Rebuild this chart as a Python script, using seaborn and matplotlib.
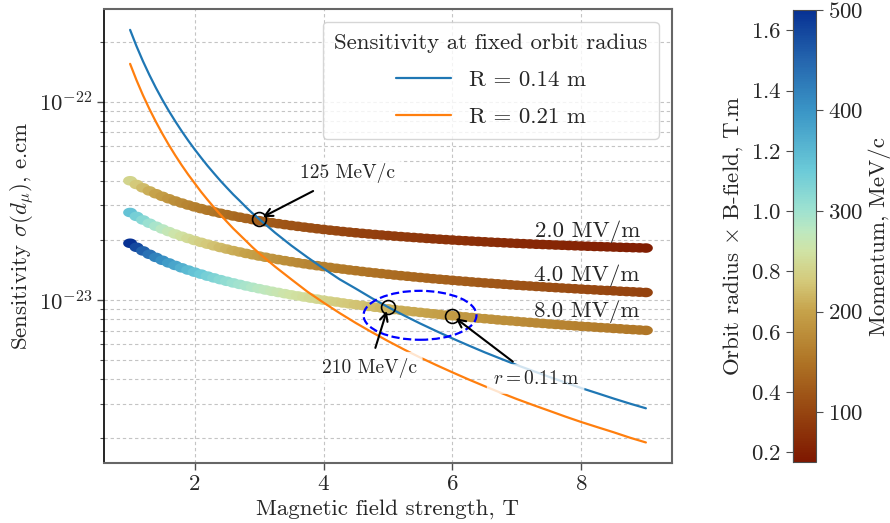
import matplotlib
matplotlib.use("Agg")
import numpy as np
import matplotlib.pyplot as plt
import seaborn as sns
from matplotlib.colors import LinearSegmentedColormap, Normalize
from matplotlib.cm import ScalarMappable
from matplotlib.patches import Ellipse
from matplotlib.markers import MarkerStyle
from matplotlib.path import Path

# ---------------- data ----------------
# fixed-radius lines: sensitivity in units of 1e-24 e.cm
b_line = [1.0, 1.1, 1.2, 1.3, 1.4, 1.5, 1.6, 1.7, 1.8, 1.9, 2.0, 2.1, 2.2, 2.3,
          2.4, 2.5, 2.6, 2.7, 2.8, 2.9, 3.0, 3.25, 3.5, 3.75, 4.0,
          4.25, 4.5, 4.75, 5.0, 5.25, 5.5, 5.75, 6.0, 6.25, 6.5, 6.75, 7.0,
          7.25, 7.5, 7.75, 8.0, 8.25, 8.5, 8.75, 9.0]
sens_r014 = [230, 190.1, 159.7, 136.1, 117.3, 102.2, 89.8, 79.6, 71.0, 63.7,
             57.5, 52.2, 47.5, 43.5, 39.9, 36.8, 34.0, 31.6, 29.3, 27.3, 25.6,
             21.8, 18.8, 16.4, 14.4, 12.7, 11.4, 10.2, 9.2, 8.34, 7.60, 6.96,
             6.39, 5.89, 5.44, 5.05, 4.69, 4.38, 4.09, 3.83, 3.59, 3.38, 3.18,
             3.00, 2.84]
sens_r021 = [155, 128.1, 107.6, 91.7, 79.1, 68.9, 60.5, 53.6, 47.8, 42.9,
             38.8, 35.1, 32.0, 29.3, 26.9, 24.8, 22.9, 21.3, 19.8, 18.4, 17.2,
             14.7, 12.7, 11.0, 9.69, 8.58, 7.65, 6.87, 6.20, 5.62, 5.12, 4.69,
             4.31, 3.97, 3.67, 3.40, 3.16, 2.95, 2.76, 2.58, 2.42, 2.28, 2.15,
             2.02, 1.91]
line_labels = ["R = 0.14 m", "R = 0.21 m"]

# fixed E-field bands
b_band = [1.0, 1.1, 1.2, 1.3, 1.4, 1.5, 1.6, 1.7, 1.8, 1.9,
          2.0, 2.1, 2.2, 2.3, 2.4, 2.5, 2.6, 2.7, 2.8, 2.9,
          3.0, 3.1, 3.2, 3.3, 3.4, 3.5, 3.6, 3.7, 3.8, 3.9,
          4.0, 4.1, 4.2, 4.3, 4.4, 4.5, 4.6, 4.7, 4.8, 4.9,
          5.0, 5.1, 5.2, 5.3, 5.4, 5.5, 5.6, 5.7, 5.8, 5.9,
          6.0, 6.1, 6.2, 6.3, 6.4, 6.5, 6.6, 6.7, 6.8, 6.9,
          7.0, 7.1, 7.2, 7.3, 7.4, 7.5, 7.6, 7.7, 7.8, 7.9,
          8.0, 8.1, 8.2, 8.3, 8.4, 8.5, 8.6, 8.7, 8.8, 8.9,
          9.0]
sens_2mv = [39.88, 38.19, 36.73, 35.44, 34.30, 33.28, 32.36, 31.53, 30.78, 30.08,
            29.45, 28.86, 28.32, 27.82, 27.35, 26.91, 26.50, 26.12, 25.75, 25.41,
            25.09, 24.79, 24.50, 24.23, 23.97, 23.72, 23.49, 23.27, 23.06, 22.85,
            22.66, 22.47, 22.30, 22.12, 21.96, 21.80, 21.65, 21.51, 21.37, 21.24,
            21.11, 20.98, 20.86, 20.75, 20.64, 20.53, 20.42, 20.32, 20.23, 20.13,
            20.04, 19.95, 19.87, 19.79, 19.71, 19.63, 19.55, 19.48, 19.41, 19.34,
            19.27, 19.21, 19.15, 19.08, 19.03, 18.97, 18.91, 18.86, 18.80, 18.75,
            18.70, 18.65, 18.60, 18.56, 18.51, 18.47, 18.42, 18.38, 18.34, 18.30,
            18.26]
mom_2mv = [241.9, 229.7, 219.0, 209.5, 201.0, 193.3, 186.4, 180.0, 174.2, 168.8,
           163.8, 159.2, 154.9, 150.8, 147.0, 143.4, 140.1, 136.8, 133.8, 130.9,
           128.2, 125.6, 123.1, 120.7, 118.4, 116.2, 114.1, 112.1, 110.1, 108.3,
           106.5, 104.7, 103.1, 101.4, 99.9, 98.3, 96.9, 95.5, 94.1, 92.7,
           91.4, 90.2, 88.9, 87.8, 86.6, 85.5, 84.4, 83.3, 82.3, 81.2,
           80.2, 79.3, 78.3, 77.4, 76.5, 75.6, 74.8, 73.9, 73.1, 72.3,
           71.5, 70.8, 70.0, 69.3, 68.5, 67.8, 67.1, 66.5, 65.8, 65.1,
           64.5, 63.9, 63.3, 62.7, 62.1, 61.5, 60.9, 60.3, 59.8, 59.2,
           58.7]
sens_4mv = [27.59, 26.37, 25.30, 24.36, 23.53, 22.78, 22.10, 21.49, 20.93, 20.41,
            19.94, 19.51, 19.10, 18.73, 18.37, 18.04, 17.72, 17.44, 17.15, 16.89,
            16.64, 16.41, 16.18, 15.97, 15.77, 15.58, 15.39, 15.21, 15.04, 14.88,
            14.73, 14.58, 14.43, 14.30, 14.16, 14.04, 13.91, 13.79, 13.68, 13.57,
            13.46, 13.35, 13.25, 13.16, 13.06, 12.97, 12.88, 12.79, 12.71, 12.63,
            12.55, 12.47, 12.40, 12.32, 12.25, 12.18, 12.12, 12.05, 11.99, 11.92,
            11.86, 11.80, 11.75, 11.69, 11.64, 11.58, 11.53, 11.48, 11.43, 11.38,
            11.33, 11.28, 11.24, 11.19, 11.15, 11.11, 11.06, 11.02, 10.98, 10.94,
            10.90]
mom_4mv = [349.7, 332.7, 317.9, 304.7, 293.0, 282.4, 272.9, 264.2, 256.2, 248.8,
           241.9, 235.6, 229.7, 224.2, 219.0, 214.2, 209.5, 205.2, 201.0, 197.1,
           193.3, 189.8, 186.4, 183.2, 180.0, 177.1, 174.2, 171.5, 168.8, 166.3,
           163.8, 161.5, 159.2, 157.0, 154.9, 152.8, 150.8, 148.9, 147.0, 145.2,
           143.4, 141.7, 140.1, 138.4, 136.8, 135.3, 133.8, 132.3, 130.9, 129.5,
           128.2, 126.9, 125.6, 124.3, 123.1, 121.9, 120.7, 119.5, 118.4, 117.3,
           116.2, 115.1, 114.1, 113.1, 112.1, 111.1, 110.1, 109.2, 108.3, 107.4,
           106.5, 105.6, 104.7, 103.9, 103.1, 102.2, 101.4, 100.6, 99.9, 99.1,
           98.3]
sens_8mv = [19.30, 18.42, 17.66, 16.98, 16.38, 15.84, 15.36, 14.92, 14.51, 14.14,
            13.80, 13.49, 13.18, 12.91, 12.65, 12.41, 12.18, 11.97, 11.76, 11.57,
            11.39, 11.22, 11.05, 10.90, 10.75, 10.60, 10.47, 10.34, 10.21, 10.09,
            9.97, 9.86, 9.76, 9.65, 9.55, 9.46, 9.37, 9.27, 9.18, 9.10,
            9.02, 8.94, 8.86, 8.79, 8.72, 8.65, 8.58, 8.51, 8.45, 8.38,
            8.32, 8.26, 8.21, 8.15, 8.09, 8.04, 7.99, 7.93, 7.88, 7.84,
            7.79, 7.74, 7.70, 7.65, 7.61, 7.56, 7.52, 7.48, 7.44, 7.40,
            7.36, 7.33, 7.29, 7.25, 7.22, 7.18, 7.15, 7.11, 7.08, 7.05,
            7.02]
mom_8mv = [500.0, 476.2, 455.4, 437.1, 420.7, 406.0, 392.7, 380.6, 369.4, 359.2,
           349.7, 340.9, 332.7, 325.1, 317.9, 311.2, 304.7, 298.7, 293.0, 287.6,
           282.4, 277.6, 272.9, 268.5, 264.2, 260.2, 256.2, 252.4, 248.8, 245.3,
           241.9, 238.7, 235.6, 232.6, 229.7, 226.9, 224.2, 221.6, 219.0, 216.6,
           214.2, 211.8, 209.5, 207.3, 205.2, 203.1, 201.0, 199.0, 197.1, 195.2,
           193.3, 191.5, 189.8, 188.1, 186.4, 184.8, 183.2, 181.6, 180.0, 178.5,
           177.1, 175.6, 174.2, 172.8, 171.5, 170.1, 168.8, 167.5, 166.3, 165.0,
           163.8, 162.6, 161.5, 160.3, 159.2, 158.1, 157.0, 155.9, 154.9, 153.8,
           152.8]
band_labels = ["2.0 MV/m", "4.0 MV/m", "8.0 MV/m"]

mom_ticks = [100, 200, 300, 400, 500]
br_ticks = [0.2, 0.4, 0.6, 0.8, 1.0, 1.2, 1.4, 1.6]
unit = 1e-24

# ---------------- style ----------------
sns.set_style("ticks")
FS = 16.5
plt.rcParams.update({
    "font.family": ["cmr10", "DejaVu Serif"],
    "mathtext.fontset": "cm",
    "axes.formatter.use_mathtext": True,
    "axes.unicode_minus": False,
    "font.size": FS,
})

cmap_pos = [0.0, 0.111, 0.222, 0.333, 0.4, 0.467, 0.511, 0.556, 0.644, 0.778, 0.889, 1.0]
cmap_col = ["#7E1700", "#964510", "#AF7425", "#C6A24A", "#D4C97A", "#D0E3A5",
            "#BDE8C0", "#9FE2D0", "#6CCBD8", "#3A95C6", "#2566AE", "#073193"]
roma = LinearSegmentedColormap.from_list("roma_like", list(zip(cmap_pos, cmap_col)))
norm = Normalize(50, 500)

# slightly widened round marker so the dense points merge into a smooth band
_t = np.linspace(0, 2 * np.pi, 64)
band_marker = MarkerStyle(Path(np.column_stack([1.45 * np.cos(_t), np.sin(_t)])))

fig = plt.figure(figsize=(8.9, 5.23), dpi=100)
ax = fig.add_axes([0.1172, 0.1153, 0.6375, 0.8669])
cax = fig.add_axes([0.8913, 0.1161, 0.0255, 0.8648])

# bands
for sens, mom in [(sens_2mv, mom_2mv), (sens_4mv, mom_4mv), (sens_8mv, mom_8mv)]:
    sns.scatterplot(x=b_band, y=np.array(sens) * unit, hue=mom, palette=roma,
                    hue_norm=(50, 500), s=100, marker=band_marker, linewidth=0,
                    legend=False, ax=ax, zorder=2)

# fixed-radius lines
sns.lineplot(x=b_line, y=np.array(sens_r014) * unit, color="#1f77b4", lw=1.6,
             label=line_labels[0], ax=ax, zorder=3)
sns.lineplot(x=b_line, y=np.array(sens_r021) * unit, color="#ff7f0e", lw=1.6,
             label=line_labels[1], ax=ax, zorder=3)

ax.set_yscale("log")
ax.set_xlim(0.6, 9.4)
ax.set_ylim(1.51e-24, 2.92e-22)

# highlighted points
p125 = (3.0, sens_r014[b_line.index(3.0)] * unit)
p210 = (5.0, sens_r014[b_line.index(5.0)] * unit)
pr011 = (6.0, sens_8mv[b_band.index(6.0)] * unit)
ax.plot([p125[0], p210[0], pr011[0]], [p125[1], p210[1], pr011[1]], "o",
        mfc="none", mec="black", ms=10, mew=1.2, zorder=5)

box = dict(boxstyle="round,pad=0.3", fc="white", ec="none", alpha=0.8)
arr = dict(arrowstyle="->", color="black", lw=1.5, shrinkA=3, shrinkB=3)
ax.annotate("125 MeV/c", xy=p125, xytext=(0.3449, 0.6273), textcoords="axes fraction",
            ha="left", va="baseline", fontsize=14, bbox=box, arrowprops=arr, zorder=6)
ax.annotate("210 MeV/c", xy=p210, xytext=(0.3832, 0.1985), textcoords="axes fraction",
            ha="left", va="baseline", fontsize=14, bbox=box, arrowprops=arr, zorder=6)
ax.annotate(r"$r = 0.11\,\mathrm{m}$", xy=pr011, xytext=(0.6845, 0.1736),
            textcoords="axes fraction", ha="left", va="baseline", fontsize=14,
            bbox=box, arrowprops=arr, zorder=6)

ax.add_patch(Ellipse((0.5564, 0.3251), 0.199, 0.108, transform=ax.transAxes,
                     fill=False, ec="blue", ls="--", lw=1.6, zorder=5))

for lab, yf in zip(band_labels, [0.4971, 0.4014, 0.3207]):
    ax.text(0.9441, yf, lab, transform=ax.transAxes, ha="right", va="baseline",
            fontsize=FS, zorder=4)

ax.grid(True, which="major", axis="x", ls=(0, (3, 2.5)), color="#c4c4c4", lw=0.8)
ax.grid(True, which="both", axis="y", ls=(0, (3, 2.5)), color="#c4c4c4", lw=0.8)
ax.set_axisbelow(True)
ax.tick_params(axis="both", which="major", labelsize=FS, length=5, width=1, color="0.3")
ax.tick_params(axis="y", which="minor", length=3, width=0.8, color="0.3")
for side in ["top", "right", "bottom"]:
    ax.spines[side].set_color("0.4")
    ax.spines[side].set_linewidth(1.5)
ax.spines["left"].set_color("black")
ax.spines["left"].set_linewidth(1.2)

ax.set_xlabel("Magnetic field strength, T", fontsize=FS)
ax.set_ylabel(r"Sensitivity $\sigma(d_\mu)$, e.cm", fontsize=FS, labelpad=2)

leg = ax.legend(title="Sensitivity at fixed orbit radius", loc="upper right",
                fontsize=FS, title_fontsize=FS, handlelength=2.4, labelspacing=0.75,
                borderpad=0.5, borderaxespad=0.55)
leg.set_zorder(7)

# colorbar
cb = fig.colorbar(ScalarMappable(norm=norm, cmap=roma), cax=cax)
cb.set_ticks(mom_ticks)
cb.set_label("Momentum, MeV/c", fontsize=FS)
cb.ax.tick_params(labelsize=FS, length=5, color="0.3")
cb.outline.set_edgecolor("0.3")
sec = cax.secondary_yaxis("left", functions=(lambda p: p / 299.79, lambda br: br * 299.79))
sec.set_yticks(br_ticks)
sec.set_ylabel(r"Orbit radius $\times$ B-field, T.m", fontsize=FS)
sec.tick_params(labelsize=FS, length=5, color="0.3")

fig.savefig("out.png", dpi=100)
